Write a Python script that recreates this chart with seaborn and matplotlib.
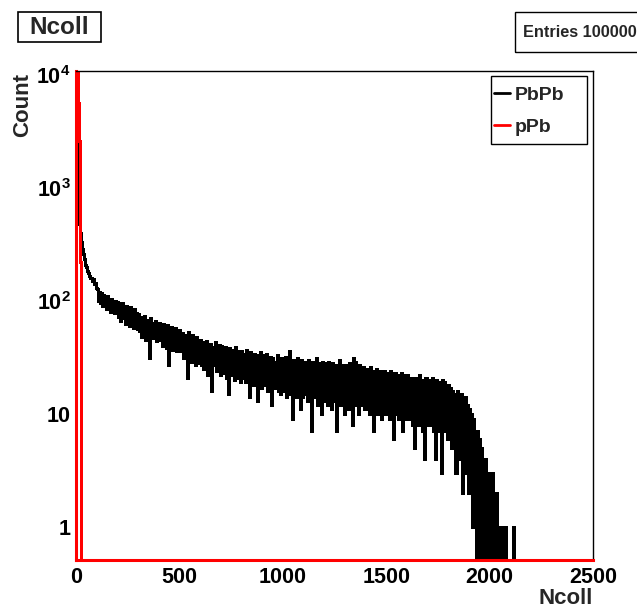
import numpy as np
import pandas as pd
import matplotlib
matplotlib.use("Agg")
import matplotlib.pyplot as plt
import seaborn as sns
from matplotlib.ticker import FixedLocator, FixedFormatter, NullFormatter, MultipleLocator, LogLocator
from matplotlib.patches import Rectangle
from matplotlib.lines import Line2D

# ---------------- data ----------------
bin_width = 5  # Ncoll units per bin
x_max = 2500

pbpb_counts = [
    2500, 900, 600, 480, 400, 330, 290, 260, 235, 210, 200, 185, 175, 165, 160, 150, 155, 140, 145, 130,
    128, 100, 120, 95, 118, 90, 112, 96, 108, 84, 110, 88, 102, 80, 105, 85, 98, 78, 100, 80,
    98, 72, 92, 66, 95, 70, 86, 62, 90, 68, 84, 60, 88, 64, 80, 58, 85, 62, 78, 56,
    76, 54, 72, 48, 70, 52, 74, 45, 66, 50, 68, 31, 70, 47, 64, 50, 67, 44, 62, 46,
    64, 45, 60, 40, 63, 43, 58, 38, 61, 27, 57, 42, 59, 37, 55, 40, 58, 36, 54, 39,
    55, 36, 52, 31, 50, 34, 48, 21, 53, 32, 47, 29, 50, 33, 46, 27, 48, 31, 44, 28,
    45, 27, 43, 25, 41, 29, 44, 22, 40, 26, 42, 16, 39, 27, 43, 24, 38, 25, 41, 22,
    40, 23, 37, 25, 39, 21, 36, 15, 38, 24, 35, 22, 37, 20, 39, 23, 34, 21, 36, 19,
    36, 21, 34, 19, 37, 22, 33, 14, 35, 20, 32, 18, 34, 21, 31, 13, 33, 19, 35, 17,
    33, 18, 31, 20, 34, 16, 30, 19, 32, 12, 31, 17, 29, 18, 33, 16, 30, 15, 31, 17,
    30, 16, 32, 14, 29, 17, 36, 15, 28, 9, 30, 16, 27, 14, 31, 15, 28, 11, 30, 14,
    29, 15, 27, 13, 30, 16, 28, 7, 29, 14, 26, 15, 31, 12, 28, 14, 27, 10, 29, 13,
    28, 14, 26, 12, 29, 15, 25, 11, 28, 13, 27, 7, 26, 14, 30, 12, 27, 13, 25, 10,
    27, 13, 26, 11, 28, 14, 25, 8, 31, 12, 29, 13, 26, 10, 27, 12, 24, 13, 26, 11,
    25, 12, 23, 10, 26, 12, 24, 7, 23, 11, 25, 10, 22, 12, 24, 9, 23, 11, 24, 10,
    23, 11, 22, 9, 24, 10, 21, 6, 23, 10, 22, 9, 21, 11, 23, 7, 22, 10, 20, 9,
    22, 10, 20, 9, 21, 8, 19, 5, 21, 9, 20, 8, 22, 10, 19, 7, 20, 4, 21, 8,
    20, 9, 19, 8, 21, 7, 18, 4, 20, 9, 19, 7, 18, 3, 20, 8, 19, 7, 18, 6,
    18, 7, 17, 5, 16, 6, 15, 3, 16, 5, 14, 4, 15, 2, 13, 4, 14, 3, 12, 2,
    11, 3, 10, 1, 9, 2, 7, 0, 7, 1, 6, 0, 5, 1, 4, 0, 4, 0, 3, 0,
    3, 0, 3, 1, 2, 0, 2, 0, 1, 0, 1, 0, 0, 1, 0, 1, 0, 0, 0, 0,
    0, 0, 0, 1, 0, 0, 0, 0, 0, 0,
]

ppb_edges = [0, 5, 10, 15, 20, 25]
ppb_counts = [20000, 14000, 5600, 2600, 220]

series_names = ["PbPb", "pPb"]
series_colors = ["#000000", "#ff0000"]

x_ticks = [0, 500, 1000, 1500, 2000, 2500]
y_ticks = [1, 10, 100, 1000, 10000]
y_tick_labels = ["1", "10", r"$\mathbf{10^{2}}$", r"$\mathbf{10^{3}}$", r"$\mathbf{10^{4}}$"]

title_text = "Ncoll"
stats_text = "Entries 100000"
x_label = "Ncoll"
y_label = "Count"

# ---------------- style ----------------
sns.set_theme(style="white")
plt.rcParams["font.family"] = ["Liberation Sans", "DejaVu Sans"]
plt.rcParams["font.weight"] = "bold"
plt.rcParams["mathtext.fontset"] = "custom"
plt.rcParams["mathtext.bf"] = "Liberation Sans:bold"
plt.rcParams["mathtext.rm"] = "Liberation Sans:bold"

W, H = 637, 609
fig = plt.figure(figsize=(W / 100, H / 100), dpi=100)
fig.patch.set_facecolor("white")
ax_l, ax_r, ax_t, ax_b = 76, 593, 70.7, 560
ax = fig.add_axes([ax_l / W, 1 - ax_b / H, (ax_r - ax_l) / W, (ax_b - ax_t) / H])
ax.set_facecolor("white")

# ---------------- histograms ----------------
pb_edges = list(np.arange(len(pbpb_counts) + 1) * bin_width) + [x_max]
pb_heights = pbpb_counts + [0]
pb_centers = [(a + b) / 2 for a, b in zip(pb_edges[:-1], pb_edges[1:])]
df_pb = pd.DataFrame({"Ncoll": pb_centers, "Count": pb_heights})

pp_edges = ppb_edges + [x_max]
pp_heights = ppb_counts + [0]
pp_centers = [(a + b) / 2 for a, b in zip(pp_edges[:-1], pp_edges[1:])]
df_pp = pd.DataFrame({"Ncoll": pp_centers, "Count": pp_heights})

sns.histplot(data=df_pb, x="Ncoll", weights="Count", bins=pb_edges, element="step",
             fill=False, color=series_colors[0], linewidth=1.8, antialiased=False, ax=ax)
sns.histplot(data=df_pp, x="Ncoll", weights="Count", bins=pp_edges, element="step",
             fill=False, color=series_colors[1], linewidth=1.8, antialiased=False, ax=ax)

ax.set_yscale("log", nonpositive="clip")
ax.set_xlim(0, x_max)
ax.set_ylim(0.51, 1.09e4)

# ---------------- ticks ----------------
ax.xaxis.set_major_locator(FixedLocator(x_ticks))
ax.xaxis.set_minor_locator(MultipleLocator(100))
ax.yaxis.set_major_locator(FixedLocator(y_ticks))
ax.yaxis.set_major_formatter(FixedFormatter(y_tick_labels))
ax.yaxis.set_minor_locator(LogLocator(base=10, subs=np.arange(2, 10)))
ax.yaxis.set_minor_formatter(NullFormatter())
ax.tick_params(axis="both", which="both", direction="in", top=False, right=False,
               colors="black", width=1.0, labelsize=15.5)
ax.tick_params(axis="y", which="major", length=11, pad=4)
ax.tick_params(axis="y", which="minor", length=6)
ax.tick_params(axis="x", which="major", length=9.5, pad=5)
ax.tick_params(axis="x", which="minor", length=5)
for lab in ax.get_xticklabels() + ax.get_yticklabels():
    lab.set_fontweight("bold")

# spines: left/bottom covered by the red pPb outline in the original
for s in ["top", "right"]:
    ax.spines[s].set_color("black")
    ax.spines[s].set_linewidth(1.0)
for s in ["left", "bottom"]:
    ax.spines[s].set_color(series_colors[1])
    ax.spines[s].set_linewidth(2.2)

# ---------------- labels ----------------
ax.set_xlabel(x_label, fontsize=16, fontweight="bold", loc="right")
ax.xaxis.set_label_coords(1.0, -0.057)
ax.set_ylabel(y_label, fontsize=16, fontweight="bold", loc="top")
ax.yaxis.set_label_coords((33 - ax_l) / (ax_r - ax_l), 0.995)

# ---------------- legend ----------------
handles = [Line2D([], [], color=c, lw=2.0) for c in series_colors]
leg = ax.legend(handles, series_names, loc="upper left",
                bbox_to_anchor=(490 / W, 1 - 82 / H), bbox_transform=fig.transFigure,
                frameon=False, borderpad=0.2, borderaxespad=0, handlelength=0.85,
                handletextpad=0.2, labelspacing=0.78,
                prop={"size": 14, "weight": "bold"})
fig.patches.append(Rectangle((491 / W, 1 - 144 / H), 96 / W, 68 / H, transform=fig.transFigure,
                             fill=False, edgecolor="black", lw=1.0))

# ---------------- title and stats boxes ----------------
fig.patches.append(Rectangle((18 / W, 1 - 42 / H), 83 / W, 30 / H, transform=fig.transFigure,
                             fill=False, edgecolor="black", lw=1.2))
fig.text(59.5 / W, 1 - 27.5 / H, title_text, ha="center", va="center",
         fontsize=17.5, fontweight="bold")
fig.patches.append(Rectangle((515 / W, 1 - 52 / H), 140 / W, 40 / H, transform=fig.transFigure,
                             fill=False, edgecolor="black", lw=1.0))
fig.text(523 / W, 1 - 32.5 / H, stats_text, ha="left", va="center",
         fontsize=11.7, fontweight="bold")

fig.savefig("out.png", dpi=100)
